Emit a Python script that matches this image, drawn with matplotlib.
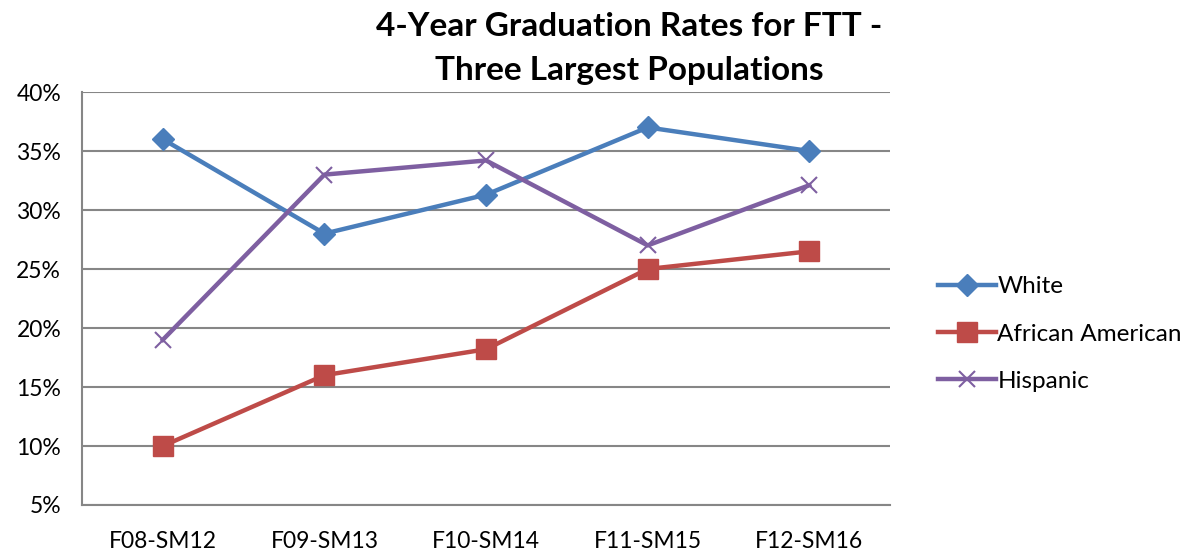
import matplotlib
matplotlib.use("Agg")
import matplotlib.pyplot as plt
from matplotlib.ticker import FuncFormatter

plt.rcParams['font.family'] = ['Lato', 'DejaVu Sans']

categories = ["F08-SM12", "F09-SM13", "F10-SM14", "F11-SM15", "F12-SM16"]
white = [36.0, 28.0, 31.3, 37.0, 35.0]
african_american = [10.0, 16.0, 18.2, 25.0, 26.5]
hispanic = [19.0, 33.0, 34.2, 27.0, 32.1]
yticks = [5, 10, 15, 20, 25, 30, 35, 40]

fig = plt.figure(figsize=(11.9, 5.53), dpi=100)
ax = fig.add_axes([0.0689, 0.0868, 0.6791, 0.7468])

x = range(len(categories))
ax.plot(x, white, color="#4A7EBB", lw=3.2, marker="D", markersize=11.5,
        label="White", zorder=3)
ax.plot(x, african_american, color="#BE4B48", lw=3.2, marker="s", markersize=14,
        label="African American", zorder=3)
ax.plot(x, hispanic, color="#7E5FA1", lw=3.2, marker="x", markersize=12,
        markeredgewidth=1.5, label="Hispanic", zorder=3)

ax.set_xlim(-0.5, len(categories) - 0.5)
ax.set_ylim(5, 40)
ax.set_yticks(yticks)
ax.yaxis.set_major_formatter(FuncFormatter(lambda v, p: f"{v:.0f}%"))
ax.set_xticks(list(x))
ax.set_xticklabels(categories)
ax.tick_params(axis="both", length=0, labelsize=16.5, colors="black")
ax.tick_params(axis="x", pad=19)
ax.tick_params(axis="y", pad=15)
ax.grid(axis="y", color="#868686", lw=1.5)
ax.set_axisbelow(True)
for s in ["left", "bottom"]:
    ax.spines[s].set_color("#868686")
    ax.spines[s].set_linewidth(1.5)
ax.spines["top"].set_visible(False)
ax.spines["right"].set_visible(False)

fig.text(0.529, 0.978, "4-Year Graduation Rates for FTT -\nThree Largest Populations",
         ha="center", va="top", fontsize=24, fontweight="bold", linespacing=1.6)

ax.legend(loc="center left", bbox_to_anchor=(1.047, 0.414), frameon=False,
          borderaxespad=0, fontsize=17.5, handlelength=2.4, handletextpad=0.05,
          labelspacing=1.08)

fig.savefig("out.png", dpi=100)
